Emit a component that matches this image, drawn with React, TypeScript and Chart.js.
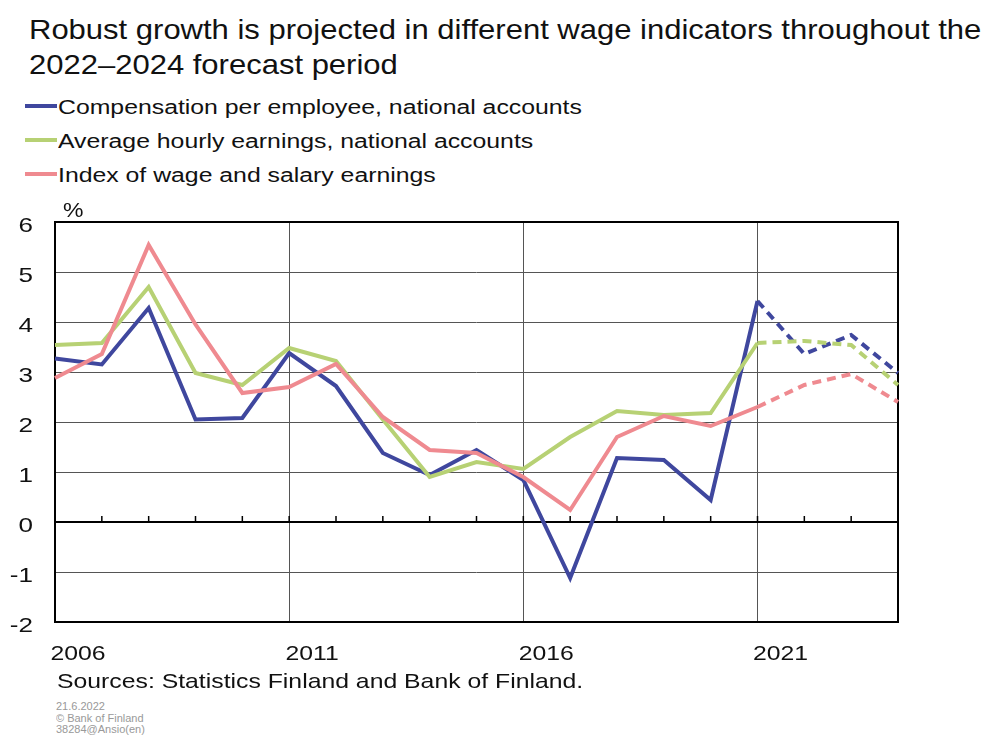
import React, { useEffect, useRef } from "react";
import { Chart, registerables } from "chart.js";

Chart.register(...registerables);

const years = [
  "2006", "2007", "2008", "2009", "2010", "2011", "2012", "2013", "2014", "2015",
  "2016", "2017", "2018", "2019", "2020", "2021", "2022", "2023", "2024",
];
const compensation = [3.27, 3.15, 4.28, 2.05, 2.08, 3.38, 2.72, 1.38, 0.94, 1.44, 0.84, -1.12, 1.28, 1.24, 0.44, 4.42, 3.36, 3.74, 2.98];
const hourlyEarnings = [3.54, 3.58, 4.7, 2.98, 2.74, 3.48, 3.22, 2.05, 0.9, 1.2, 1.06, 1.7, 2.22, 2.14, 2.18, 3.58, 3.62, 3.54, 2.74];
const wageIndex = [2.88, 3.36, 5.54, 3.95, 2.58, 2.7, 3.16, 2.1, 1.44, 1.38, 0.9, 0.24, 1.7, 2.12, 1.92, 2.3, 2.74, 2.96, 2.4];
const forecastStartIndex = 15;
const labelledYearStep = 5;
const seriesNames = [
  "Compensation per employee, national accounts",
  "Average hourly earnings, national accounts",
  "Index of wage and salary earnings",
];
const seriesColors = ["#3f479e", "#b7d174", "#ef8a90"];
const yMin = -2;
const yMax = 6;

const FONT = '"Liberation Sans", Arial, sans-serif';
const STRETCH = 1.24;
const AXIS_STRETCH = 1.18;

const framePlugin = {
  id: "frame",
  beforeDatasetsDraw(chart: any) {
    const { ctx, chartArea, scales } = chart;
    const x = scales.x;
    const y = scales.y;
    const y0 = y.getPixelForValue(0);
    ctx.save();
    ctx.strokeStyle = "#000";
    ctx.lineWidth = 2;
    ctx.strokeRect(chartArea.left, chartArea.top, chartArea.right - chartArea.left, chartArea.bottom - chartArea.top);
    ctx.beginPath();
    ctx.moveTo(chartArea.left, y0);
    ctx.lineTo(chartArea.right, y0);
    ctx.stroke();
    ctx.lineWidth = 1.5;
    ctx.beginPath();
    for (let i = 0; i < years.length; i++) {
      const px = x.getPixelForValue(i);
      ctx.moveTo(px, y0);
      ctx.lineTo(px, y0 - 6);
    }
    ctx.stroke();
    ctx.restore();
  },
  afterDraw(chart: any) {
    const { ctx, chartArea, scales } = chart;
    const x = scales.x;
    const y = scales.y;
    ctx.save();
    ctx.fillStyle = "#111";
    ctx.font = `21px ${FONT}`;
    ctx.textBaseline = "alphabetic";
    // x labels
    ctx.textAlign = "center";
    for (let i = 0; i < years.length - 1; i += labelledYearStep) {
      const px = x.getPixelForValue(i) + 23;
      ctx.save();
      ctx.translate(px, chartArea.bottom + 38);
      ctx.scale(AXIS_STRETCH, 1);
      ctx.fillText(years[i], 0, 0);
      ctx.restore();
    }
    // y labels
    ctx.textAlign = "right";
    for (const t of y.ticks) {
      const py = y.getPixelForValue(t.value);
      ctx.save();
      ctx.translate(chartArea.left - 22, py + 10);
      ctx.scale(STRETCH, 1);
      ctx.fillText(String(t.value), 0, 0);
      ctx.restore();
    }
    // unit
    ctx.textAlign = "left";
    ctx.font = `20px ${FONT}`;
    ctx.save();
    ctx.translate(chartArea.left + 8, chartArea.top - 5);
    ctx.scale(1.15, 1);
    ctx.fillText("%", 0, 0);
    ctx.restore();
    ctx.restore();
  },
};

export default function App() {
  const canvasRef = useRef<HTMLCanvasElement | null>(null);

  useEffect(() => {
    if (!canvasRef.current) return;
    const dash = (c: any) => (c.p0DataIndex >= forecastStartIndex ? [9, 6] : undefined);
    const mk = (label: string, data: number[], color: string) => ({
      label,
      data,
      borderColor: color,
      backgroundColor: color,
      borderWidth: 4,
      pointRadius: 0,
      tension: 0,
      segment: { borderDash: dash },
    });
    const chart = new Chart(canvasRef.current, {
      type: "line",
      data: {
        labels: years,
        datasets: [
          mk(seriesNames[2], wageIndex, seriesColors[2]),
          mk(seriesNames[1], hourlyEarnings, seriesColors[1]),
          mk(seriesNames[0], compensation, seriesColors[0]),
        ],
      },
      options: {
        animation: false,
        responsive: false,
        maintainAspectRatio: false,
        layout: { padding: { left: 0, right: 84, top: 27, bottom: 23 } },
        plugins: { legend: { display: false }, tooltip: { enabled: false }, title: { display: false } },
        scales: {
          x: {
            type: "category",
            offset: false,
            afterFit: (s: any) => {
              s.height = 50;
            },
            grid: {
              drawTicks: false,
              lineWidth: 1,
              color: (c: any) => (c.index % labelledYearStep === 0 ? "#555" : "rgba(0,0,0,0)"),
            },
            border: { display: false },
            ticks: { display: false, autoSkip: false },
          },
          y: {
            min: yMin,
            max: yMax,
            afterFit: (s: any) => {
              s.width = 55;
            },
            grid: { drawTicks: false, color: "#555", lineWidth: 1 },
            border: { display: false },
            ticks: { display: false, stepSize: 1 },
          },
        },
      },
      plugins: [framePlugin],
    });
    return () => chart.destroy();
  }, []);

  const abs = (left: number, top: number, extra: any = {}) => ({
    position: "absolute" as const,
    left,
    top,
    whiteSpace: "nowrap" as const,
    fontFamily: FONT,
    color: "#111",
    transformOrigin: "0 0",
    ...extra,
  });

  return (
    <div style={{ position: "absolute", left: 0, top: 0, width: 982, height: 735, background: "#fff", overflow: "hidden" }}>
      <div style={abs(29, 12, { fontSize: 28, lineHeight: "35px", transform: "scaleX(1.107)" })}>
        Robust growth is projected in different wage indicators throughout the
        <br />
        2022–2024 forecast period
      </div>
      {seriesNames.map((n, i) => (
        <React.Fragment key={n}>
          <div style={{ position: "absolute", left: 25, top: 104 + i * 34, width: 32, height: 3.5, background: seriesColors[i] }} />
          <div style={abs(58, 97 + i * 34, { fontSize: 20, lineHeight: "20px", transform: `scaleX(${STRETCH})` })}>{n}</div>
        </React.Fragment>
      ))}
      <canvas ref={canvasRef} width={982} height={500} style={{ position: "absolute", left: 0, top: 195, width: 982, height: 500 }} />
      <div style={abs(57, 671, { fontSize: 21, lineHeight: "20px", transform: "scaleX(1.18)" })}>
        Sources: Statistics Finland and Bank of Finland.
      </div>
      <div style={abs(56, 701, { fontSize: 10, color: "#999", lineHeight: "11.5px", transform: "scaleX(1.1)" })}>
        21.6.2022
        <br />© Bank of Finland
        <br />
        38284@Ansio(en)
      </div>
    </div>
  );
}
